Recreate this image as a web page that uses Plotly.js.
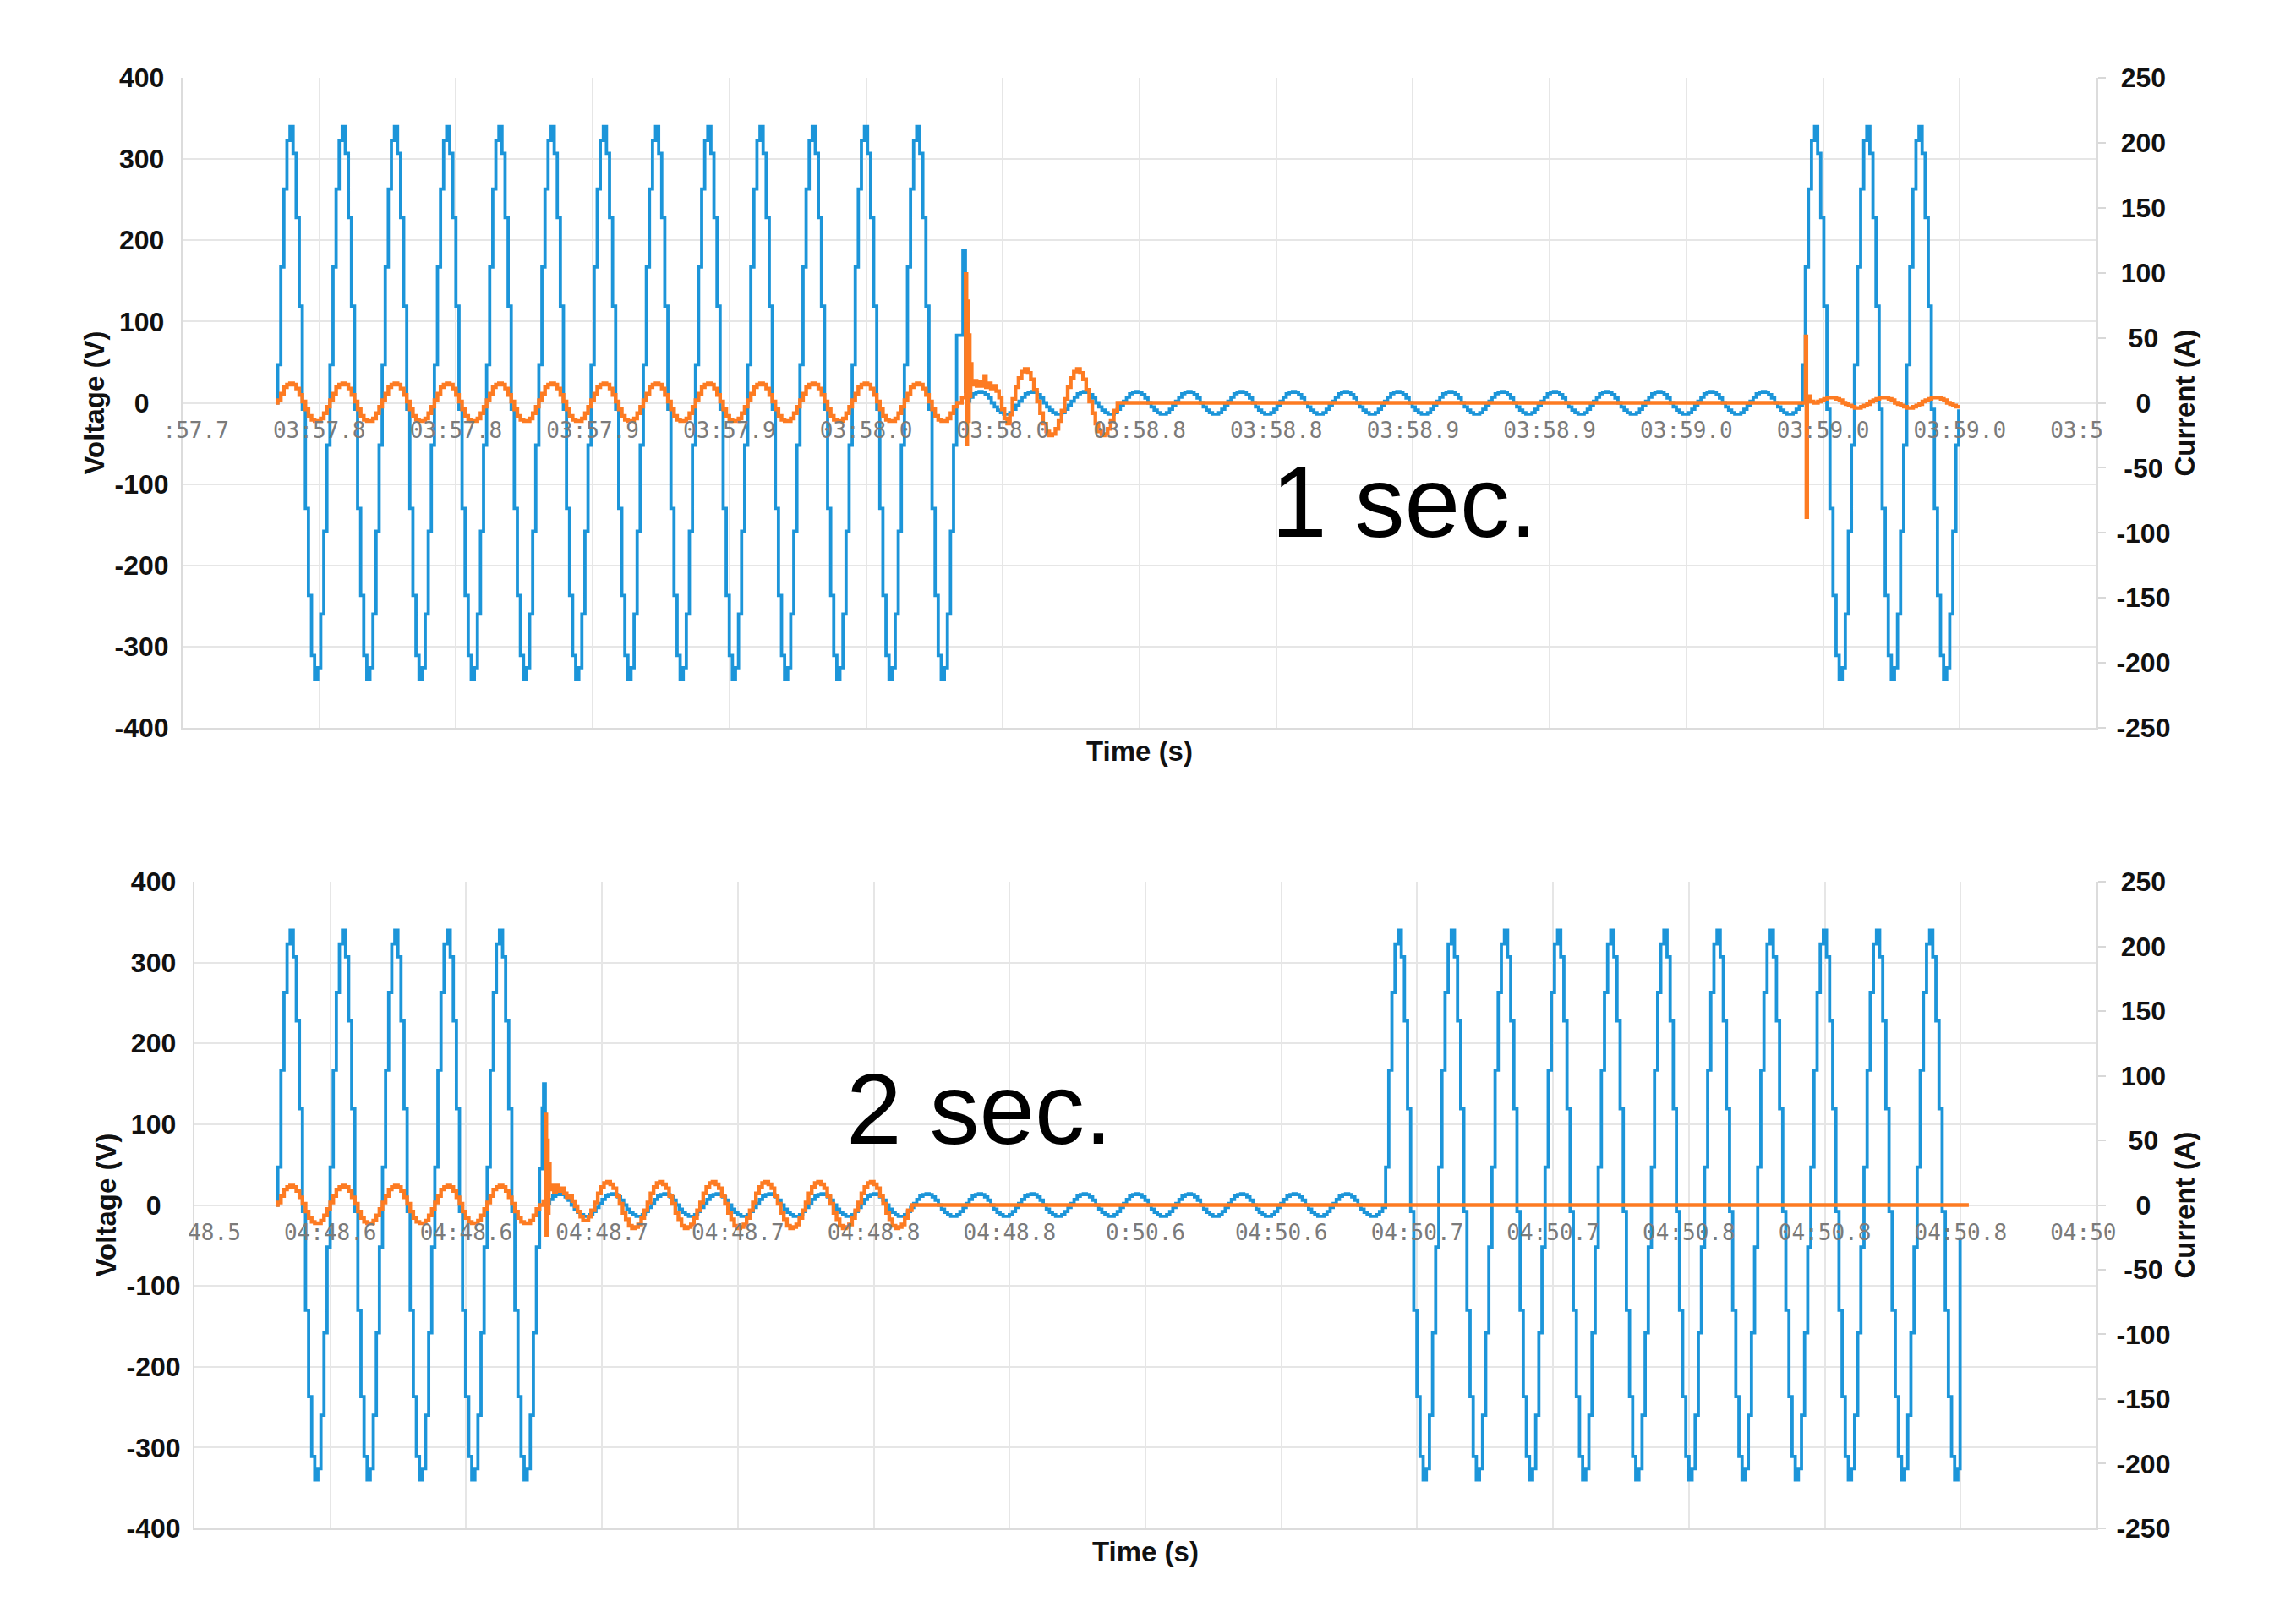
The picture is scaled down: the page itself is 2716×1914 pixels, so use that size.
<!DOCTYPE html>
<html>
<head>
<meta charset="utf-8">
<script src="https://cdn.plot.ly/plotly-3.0.1.min.js"></script>
<style>
  html, body { margin: 0; padding: 0; background: #fff; }
  #chart { width: 2716px; height: 1914px; }
</style>
</head>
<body>
<div id="chart"></div>
<script>
"use strict";

// one cycle of each waveform, 17 samples per cycle
const vFullCycle  = [47, 167, 263, 323, 340, 307, 228, 119, -8, -130, -237, -311, -340, -326, -260, -158, -52];
const vSmallCycle = [2, 7, 11, 13, 14, 13, 10, 6, 0, -5, -9, -12, -14, -14, -12, -8, -3];
const iLoadCycle  = [2, 7, 12, 14, 15, 14, 11, 6, 1, -5, -10, -13, -14, -14, -12, -8, -3];
const iRingTopCycle = [3, 12, 19, 24, 26, 23, 18, 10, 1, -8, -16, -22, -25, -24, -20, -14, -6];
const iRingBotCycle = [2, 9, 14, 17, 18, 16, 13, 7, 1, -6, -11, -16, -18, -17, -15, -10, -4];
const iTailCycle  = [1, 2, 3, 4, 4, 4, 3, 2, 0, -1, -2, -3, -4, -4, -3, -2, -1];

// runs of repeated cycles: [start ms, period ms, samples]
const topVoltRuns = [[34.8, 19.1, 221], [286.8, 19.1, 272], [592.4, 19.1, 51]];   // full, small, full
const topAmpRuns  = [[34.8, 19.1, 221], [303.5, 19.1, 34], [598.1, 19.1, 46]];    // load, ring, tail
const botVoltRuns = [[30.7, 19.26, 85], [129.6, 19.3, 272], [438.4, 19.56, 184]]; // full, small, full
const botAmpRuns  = [[30.7, 19.26, 85], [147.3, 19.4, 102]];                      // load, ring

// single points around the switching events: [ms, value]
const topVoltStart = [[34.3, 0]];
const topVoltFault = [[283.1, 83], [285.4, 188], [286.3, 14]];
const topVoltEnd   = [[649.6, -8]];
const topAmpStart  = [[34.3, 0]];
const topAmpFault  = [[283.3, 0], [285.0, 4], [286.4, 99], [286.7, -32], [287.0, 78], [287.3, -14],
  [287.6, 52], [287.9, 5], [288.2, 30], [288.6, 14], [289.4, 17], [290.4, 13], [291.4, 16], [292.4, 13],
  [293.2, 20], [293.8, 12], [294.6, 15], [295.6, 11], [296.6, 13], [297.6, 9], [298.6, 4], [299.6, -5],
  [300.6, -12], [301.6, -16], [302.6, -9]];
const topAmpOff    = [[341.9, 0]];
const topAmpClose  = [[593.6, 51], [593.9, -88], [594.2, 5], [595.2, 1], [596.5, 0]];
const topAmpEnd    = [[650.2, -3]];

const botVoltStart = [[30.2, 0]];
const botVoltFault = [[127.0, 45], [128.0, 120], [128.5, 150], [129.1, 13]];
const botVoltEnd   = [[649.8, -40]];
const botAmpStart  = [[30.2, 0]];
const botAmpFault  = [[127.0, 0], [128.4, 3], [129.2, 70], [129.5, -23], [129.8, 50], [130.1, -6],
  [130.4, 32], [130.8, 12], [131.5, 15], [132.3, 10], [133.1, 15], [134.0, 11], [135.0, 13], [136.0, 9],
  [137.0, 6], [138.0, 7], [139.0, 3], [140.0, -1], [141.0, -5], [142.0, -9], [143.0, -12], [144.0, -12],
  [145.0, -9], [146.0, -4]];
const botAmpEnd    = [[264.0, 0], [653.0, 0]];

// axis ticks
const timeTicks = [0, 50, 100, 150, 200, 250, 300, 350, 400, 450, 500, 550, 600, 650, 700];
const topTimeText = ["\u00a0\u00a0:57.7", "03:57.8", "03:57.8", "03:57.9", "03:57.9", "03:58.0", "03:58.0",
  "03:58.8", "03:58.8", "03:58.9", "03:58.9", "03:59.0", "03:59.0", "03:59.0", "03:5\u00a0\u00a0\u00a0"];
const botTimeText = ["\u00a0\u00a0\u00a048.5", "04:48.6", "04:48.6", "04:48.7", "04:48.7", "04:48.8", "04:48.8",
  "0:50.6", "04:50.6", "04:50.7", "04:50.7", "04:50.8", "04:50.8", "04:50.8", "04:50\u00a0\u00a0"];
const voltTicks = [-400, -300, -200, -100, 0, 100, 200, 300, 400];
const voltText = ["-400", "-300", "-200", "-100", "0\u2007\u2006", "100\u2006", "200\u2006", "300\u2006", "400\u2006"];
const ampTicks = [-250, -200, -150, -100, -50, 0, 50, 100, 150, 200, 250];
const ampText = ["-250", "-200", "-150", "-100", "\u2008-50", "\u2007\u20060", "\u2008\u200650",
  "\u2006100", "\u2006150", "\u2006200", "\u2006250"];

function run(s, cycle, r) {
  let step = r[1] / cycle.length;
  for (let i = 0; i < r[2]; i++) {
    s.x.push(r[0] + i * step);
    s.y.push(cycle[i % cycle.length]);
  }
}
function pts(s, p) {
  for (let i = 0; i < p.length; i++) {
    s.x.push(p[i][0]);
    s.y.push(p[i][1]);
  }
}

function series(parts) {
  let s = {x: [], y: []};
  parts.forEach(function (p) {
    if (p.length === 2) run(s, p[0], p[1]);
    else pts(s, p[0]);
  });
  return s;
}

let topV = series([[topVoltStart], [vFullCycle, topVoltRuns[0]], [topVoltFault], [vSmallCycle, topVoltRuns[1]],
  [vFullCycle, topVoltRuns[2]], [topVoltEnd]]);
let topI = series([[topAmpStart], [iLoadCycle, topAmpRuns[0]], [topAmpFault], [iRingTopCycle, topAmpRuns[1]],
  [topAmpOff], [topAmpClose], [iTailCycle, topAmpRuns[2]], [topAmpEnd]]);
let botV = series([[botVoltStart], [vFullCycle, botVoltRuns[0]], [botVoltFault], [vSmallCycle, botVoltRuns[1]],
  [vFullCycle, botVoltRuns[2]], [botVoltEnd]]);
let botI = series([[botAmpStart], [iLoadCycle, botAmpRuns[0]], [botAmpFault], [iRingBotCycle, botAmpRuns[1]],
  [botAmpEnd]]);

let blue = '#1c95d9';
let orange = '#fd7b22';
let noY = timeTicks.map(function () { return null; });

let data = [
  {x: topV.x, y: topV.y, xaxis: 'x', yaxis: 'y', mode: 'lines', line: {color: blue, width: 3.8, shape: 'hv'}},
  {x: topI.x, y: topI.y, xaxis: 'x', yaxis: 'y2', mode: 'lines', line: {color: orange, width: 4.4, shape: 'hv'}},
  {x: botV.x, y: botV.y, xaxis: 'x2', yaxis: 'y3', mode: 'lines', line: {color: blue, width: 3.8, shape: 'hv'}},
  {x: botI.x, y: botI.y, xaxis: 'x2', yaxis: 'y4', mode: 'lines', line: {color: orange, width: 4.4, shape: 'hv'}},
  // empty traces so the time-label axes at the zero line get drawn
  {x: timeTicks, y: noY, xaxis: 'x3', yaxis: 'y', mode: 'lines', hoverinfo: 'skip'},
  {x: timeTicks, y: noY, xaxis: 'x4', yaxis: 'y3', mode: 'lines', hoverinfo: 'skip'}
];

let grid = '#e6e6e6';
let edge = '#dcdcdc';
let sans = 'Liberation Sans, Arial, sans-serif';
let tickFont = {family: sans, size: 32, color: '#111', weight: 'bold'};
let titleFont = {family: sans, size: 33, color: '#111', weight: 'bold'};
let timeFont = {family: 'DejaVu Sans Mono, monospace', size: 26, color: '#7b7b7b'};
let none = 'rgba(0,0,0,0)';

function timeAxis(dom, anchor, title) {
  return {domain: dom, anchor: anchor, range: [0, 700], tickvals: timeTicks, showticklabels: false, ticks: '',
    showgrid: true, gridcolor: grid, gridwidth: 2, showline: true, linecolor: edge, linewidth: 2,
    zeroline: false, automargin: false, title: {text: title, font: titleFont, standoff: 15}};
}
function labelAxis(dom, over, pos, text) {
  return {domain: dom, overlaying: over, anchor: 'free', position: pos, range: [0, 700], tickvals: timeTicks,
    ticktext: text, tickfont: timeFont, ticks: 'outside', ticklen: 9, tickcolor: none,
    showgrid: false, showline: false, zeroline: false, automargin: false};
}
function voltAxis(dom, anchor) {
  return {domain: dom, anchor: anchor, range: [-400, 400], tickvals: voltTicks, ticktext: voltText,
    tickfont: tickFont, ticks: 'outside', ticklen: 8, tickcolor: none, gridcolor: grid, gridwidth: 2,
    showline: true, linecolor: edge, linewidth: 2, zeroline: false, automargin: false,
    title: {text: 'Voltage (V)', font: titleFont, standoff: 2}};
}
function ampAxis(over, anchor) {
  return {overlaying: over, anchor: anchor, side: 'right', range: [-250, 250], tickvals: ampTicks,
    ticktext: ampText, tickfont: tickFont, ticks: 'outside', ticklen: 9, tickwidth: 2, tickcolor: '#d8d8d8',
    ticklabelstandoff: 6, showgrid: false, showline: true, linecolor: edge, linewidth: 2, zeroline: false,
    automargin: false, title: {text: 'Current (A)', font: titleFont, standoff: 6}};
}

let format = {
  width: 2716,
  height: 1914,
  margin: {l: 216, r: 236, t: 92, b: 106},
  paper_bgcolor: '#fff',
  plot_bgcolor: '#fff',
  showlegend: false,
  xaxis: timeAxis([0, 1], 'y', 'Time (s)\u00a0\u00a0'),
  xaxis3: labelAxis([0, 1], 'x', 0.77593, topTimeText),
  yaxis: voltAxis([0.55186, 1], 'x'),
  yaxis2: ampAxis('y', 'x'),
  xaxis2: timeAxis([0.00618, 1], 'y3', 'Time (s)' + '\u00a0'.repeat(11)),
  xaxis4: labelAxis([0.00618, 1], 'x2', 0.2229, botTimeText),
  yaxis3: voltAxis([0, 0.4458], 'x2'),
  yaxis4: ampAxis('y3', 'x2'),
  annotations: [
    {xref: 'x', yref: 'y', x: 447, y: -122, text: '1 sec.', showarrow: false,
      font: {family: sans, size: 118, color: '#000'}},
    {xref: 'x2', yref: 'y3', x: 289, y: 119, text: '2 sec.', showarrow: false,
      font: {family: sans, size: 118, color: '#000'}}
  ]
};

Plotly.newPlot('chart', data, format, {displayModeBar: false, staticPlot: true});
</script>
</body>
</html>
